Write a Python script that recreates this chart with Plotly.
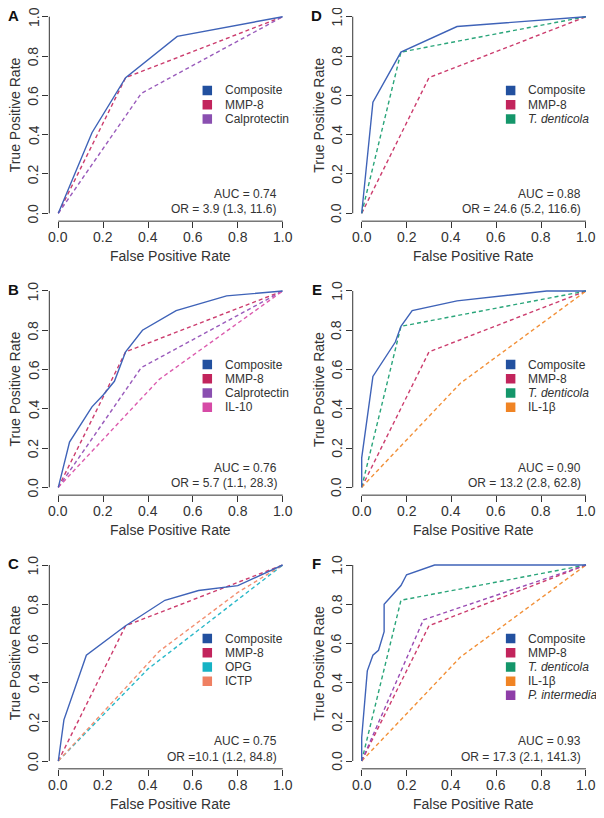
import plotly.graph_objects as go
from plotly.subplots import make_subplots

# ---- data ----
mmp8_fpr = [0, 0.30, 1]
mmp8_tpr = [0, 0.69, 1]
calpro_fpr = [0, 0.37, 1]
calpro_tpr = [0, 0.61, 1]
il10_fpr = [0, 0.45, 1]
il10_tpr = [0, 0.55, 1]
tden_fpr = [0, 0.175, 1]
tden_tpr = [0, 0.82, 1]
opg_fpr = [0, 0.40, 1]
opg_tpr = [0, 0.47, 1]
ictp_fpr = [0, 0.45, 0.80, 1]
ictp_tpr = [0, 0.56, 0.86, 1]
il1b_fpr = [0, 0.44, 1]
il1b_tpr = [0, 0.53, 1]
pint_fpr = [0, 0.275, 1]
pint_tpr = [0, 0.72, 1]

compA_fpr = [0, 0.15, 0.30, 0.53, 1]
compA_tpr = [0, 0.41, 0.69, 0.90, 1]
compB_fpr = [0, 0.05, 0.15, 0.20, 0.25, 0.30, 0.375, 0.525, 0.75, 1]
compB_tpr = [0, 0.23, 0.41, 0.47, 0.54, 0.69, 0.80, 0.90, 0.975, 1]
compC_fpr = [0, 0.025, 0.125, 0.30, 0.475, 0.625, 0.80, 1]
compC_tpr = [0, 0.21, 0.54, 0.69, 0.82, 0.87, 0.895, 1]
compD_fpr = [0, 0.05, 0.175, 0.425, 1]
compD_tpr = [0, 0.565, 0.82, 0.95, 1]
compE_fpr = [0, 0, 0.05, 0.15, 0.175, 0.225, 0.425, 0.825, 1]
compE_tpr = [0, 0.15, 0.565, 0.74, 0.82, 0.90, 0.95, 1.0, 1]
compF_fpr = [0, 0, 0.025, 0.05, 0.075, 0.10, 0.10, 0.175, 0.20, 0.325, 1]
compF_tpr = [0, 0.12, 0.46, 0.54, 0.565, 0.66, 0.80, 0.895, 0.95, 1.0, 1]

tick_vals = [0, 0.2, 0.4, 0.6, 0.8, 1.0]
auc_labels = ["AUC = 0.74", "AUC = 0.76", "AUC = 0.75", "AUC = 0.88", "AUC = 0.90", "AUC = 0.93"]
or_labels = ["OR = 3.9 (1.3, 11.6)", "OR = 5.7 (1.1, 28.3)", "OR =10.1 (1.2, 84.8)",
             "OR = 24.6 (5.2, 116.6)", "OR = 13.2 (2.8, 62.8)", "OR = 17.3 (2.1, 141.3)"]
panel_letters = ["A", "B", "C", "D", "E", "F"]

# (legend box colour, line colour)
colors = {
    "Composite": ("#22509f", "#3f63b8"),
    "MMP-8": ("#c2245c", "#cc3d6e"),
    "Calprotectin": ("#8a4fb0", "#9a5cbc"),
    "IL-10": ("#d64aa6", "#dc5cae"),
    "<i>T. denticola</i>": ("#14966a", "#2aa57a"),
    "OPG": ("#16b2c4", "#2ab8c8"),
    "ICTP": ("#ef8062", "#f29072"),
    "IL-1β": ("#f08424", "#f29038"),
    "<i>P. intermedia</i>": ("#8e3ea8", "#9a4cb4"),
}

# panel -> list of (name, fpr, tpr)
panels = {
    "A": [("Composite", compA_fpr, compA_tpr), ("MMP-8", mmp8_fpr, mmp8_tpr),
          ("Calprotectin", calpro_fpr, calpro_tpr)],
    "B": [("Composite", compB_fpr, compB_tpr), ("MMP-8", mmp8_fpr, mmp8_tpr),
          ("Calprotectin", calpro_fpr, calpro_tpr), ("IL-10", il10_fpr, il10_tpr)],
    "C": [("Composite", compC_fpr, compC_tpr), ("MMP-8", mmp8_fpr, mmp8_tpr),
          ("OPG", opg_fpr, opg_tpr), ("ICTP", ictp_fpr, ictp_tpr)],
    "D": [("Composite", compD_fpr, compD_tpr), ("MMP-8", mmp8_fpr, mmp8_tpr),
          ("<i>T. denticola</i>", tden_fpr, tden_tpr)],
    "E": [("Composite", compE_fpr, compE_tpr), ("MMP-8", mmp8_fpr, mmp8_tpr),
          ("<i>T. denticola</i>", tden_fpr, tden_tpr), ("IL-1β", il1b_fpr, il1b_tpr)],
    "F": [("Composite", compF_fpr, compF_tpr), ("MMP-8", mmp8_fpr, mmp8_tpr),
          ("<i>T. denticola</i>", tden_fpr, tden_tpr), ("IL-1β", il1b_fpr, il1b_tpr),
          ("<i>P. intermedia</i>", pint_fpr, pint_tpr)],
}

# ---- layout geometry (pixels of the page) ----
OFF = 8  # the page body has an 8px margin
W, H = 604 - OFF, 818 - OFF
col_x0 = [58.3, 361.7]
col_x1 = [282.7, 586.0]
row_y1 = [16.7, 291.0, 565.0]
row_y0 = [213.3, 487.3, 761.0]
FONT = "Liberation Sans, Arial, Helvetica, sans-serif"
INK = "#333333"


def px(p):
    return (p - OFF) / W


def py(p):
    return 1 - (p - OFF) / H


def txt(size, color=INK):
    return dict(size=size, color=color, family=FONT)


fig = make_subplots(rows=3, cols=2)
shapes = []
annotations = []

for i, letter in enumerate(panel_letters):
    col = 0 if letter in "ABC" else 1
    row = "ABC".index(letter) if col == 0 else "DEF".index(letter)
    x0, x1 = col_x0[col], col_x1[col]
    y1, y0 = row_y1[row], row_y0[row]
    padx = 0.04 * (x1 - x0)
    pady = 0.04 * (y0 - y1)
    n = row * 2 + col + 1
    xa = "x" if n == 1 else "x%d" % n
    ya = "y" if n == 1 else "y%d" % n

    fig.layout["xaxis" if n == 1 else "xaxis%d" % n].update(
        domain=[px(x0 - padx), px(x1 + padx)], range=[-0.04, 1.04],
        tickvals=tick_vals, showticklabels=False, automargin=False,
        ticks="outside", ticklen=6, tickcolor=INK, tickwidth=1, showline=False,
        showgrid=False, zeroline=False)
    fig.layout["yaxis" if n == 1 else "yaxis%d" % n].update(
        domain=[py(y0 + pady), py(y1 - pady)], range=[-0.04, 1.04],
        tickvals=tick_vals, showticklabels=False, automargin=False,
        ticks="outside", ticklen=6, tickcolor=INK, tickwidth=1, showline=False,
        showgrid=False, zeroline=False)

    # R-style axis lines spanning only 0..1
    shapes.append(dict(type="line", xref=xa, yref=ya + " domain", x0=0, x1=1, y0=0, y1=0,
                       line=dict(color=INK, width=1)))
    shapes.append(dict(type="line", xref=xa + " domain", yref=ya, x0=0, x1=0, y0=0, y1=1,
                       line=dict(color=INK, width=1)))

    # tick labels
    for v in tick_vals:
        annotations.append(dict(xref=xa, yref="paper", x=v, y=py(y0 + pady + 16),
                                text="%.1f" % v, showarrow=False, xanchor="center", yanchor="middle",
                                font=txt(14)))
        annotations.append(dict(xref="paper", yref=ya, x=px(x0 - padx - 16), y=v,
                                text="%.1f" % v, showarrow=False, textangle=-90,
                                xanchor="center", yanchor="middle", font=txt(14)))

    curves = panels[letter]
    # dashed first, composite on top
    for name, fpr, tpr in curves[1:] + curves[:1]:
        fig.add_trace(go.Scatter(
            x=fpr, y=tpr, mode="lines", showlegend=False,
            line=dict(color=colors[name][1], width=1.4,
                      dash="solid" if name == "Composite" else "4px,3px")),
            row=row + 1, col=col + 1)

    # legend boxes
    for k, (name, fpr, tpr) in enumerate(curves):
        ly = 0.625 - k * 0.0725
        fig.add_trace(go.Scatter(
            x=[0.664], y=[ly], mode="markers", showlegend=False,
            marker=dict(symbol="square", size=9.5, color=colors[name][0], line=dict(width=0))),
            row=row + 1, col=col + 1)
        annotations.append(dict(xref=xa, yref=ya, x=0.733, y=ly, text=name, showarrow=False,
                                xanchor="left", yanchor="middle", font=txt(12)))

    annotations.append(dict(xref=xa, yref=ya, x=0.985, y=0.10, text=auc_labels[i], showarrow=False,
                            xanchor="right", yanchor="middle", font=txt(12)))
    annotations.append(dict(xref=xa, yref=ya, x=0.985, y=0.02, text=or_labels[i], showarrow=False,
                            xanchor="right", yanchor="middle", font=txt(12)))

    # axis titles
    annotations.append(dict(xref=xa, yref="paper", x=0.5, y=py(y0 + pady + 35),
                            text="False Positive Rate", showarrow=False, xanchor="center", yanchor="middle",
                            font=txt(14)))
    annotations.append(dict(xref="paper", yref=ya, x=px(x0 - padx - 34), y=0.5,
                            text="True Positive Rate", showarrow=False, textangle=-90,
                            xanchor="center", yanchor="middle", font=txt(14)))
    # panel letter
    annotations.append(dict(xref="paper", yref="paper", x=px(x0 - 45), y=py(y1 - 1.5),
                            text="<b>%s</b>" % letter, showarrow=False, xanchor="center", yanchor="middle",
                            font=txt(15, "#111111")))

fig.update_layout(template="none", width=W, height=H, margin=dict(l=0, r=0, t=0, b=0),
                  plot_bgcolor="white", paper_bgcolor="white",
                  shapes=shapes, annotations=annotations, showlegend=False)

fig.write_html("out.html")
